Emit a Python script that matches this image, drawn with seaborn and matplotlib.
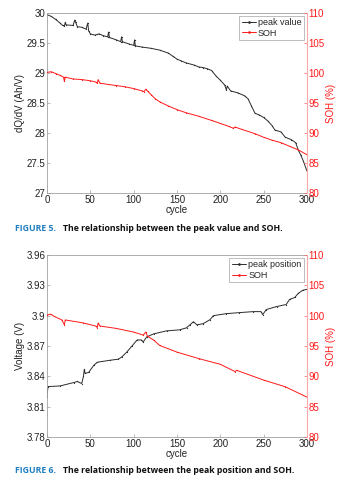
import matplotlib
matplotlib.use("Agg")
import matplotlib.pyplot as plt
import seaborn as sns
import pandas as pd
from matplotlib.lines import Line2D

# ---------------- data ----------------
pv_cycle = [0, 5, 10, 15, 18, 20, 21, 22, 30, 32, 33, 35, 40, 45, 47, 48, 50, 55, 58, 60,
            65, 70, 71, 72, 80, 85, 86, 87, 95, 100, 101, 102, 110, 120, 130, 140, 145, 150,
            155, 160, 170, 175, 180, 185, 190, 195, 200, 205, 207, 208, 212, 220, 228, 232,
            236, 240, 245, 250, 255, 260, 263, 270, 275, 282, 287, 290, 293, 296, 300]
pv_value = [29.97, 29.94, 29.89, 29.83, 29.79, 29.78, 29.84, 29.80, 29.79, 29.88, 29.84, 29.77,
            29.76, 29.73, 29.83, 29.70, 29.65, 29.63, 29.64, 29.65, 29.62, 29.60, 29.68, 29.59,
            29.55, 29.52, 29.60, 29.52, 29.48, 29.46, 29.55, 29.45, 29.43, 29.41, 29.38, 29.33,
            29.28, 29.23, 29.20, 29.17, 29.13, 29.10, 29.09, 29.07, 29.04, 28.95, 28.88, 28.80,
            28.72, 28.78, 28.70, 28.67, 28.62, 28.57, 28.45, 28.33, 28.30, 28.26, 28.20, 28.12,
            28.05, 28.02, 27.93, 27.89, 27.84, 27.72, 27.63, 27.53, 27.37]

soh1_cycle = [0, 5, 10, 15, 19, 20, 21, 30, 40, 50, 56, 58, 59, 61, 70, 80, 90, 100, 110, 112,
              114, 116, 120, 125, 130, 140, 150, 160, 175, 190, 200, 210, 215, 217, 225, 240,
              250, 260, 270, 280, 290, 300]
soh1_value = [100.1, 100.2, 99.9, 99.6, 99.3, 98.6, 99.3, 99.0, 98.9, 98.7, 98.5, 98.3, 98.9,
              98.3, 98.1, 97.9, 97.7, 97.4, 97.0, 96.9, 97.3, 97.0, 96.4, 95.7, 95.2, 94.5,
              93.9, 93.4, 92.8, 92.1, 91.6, 91.1, 90.8, 91.0, 90.6, 89.9, 89.3, 88.8, 88.4,
              87.8, 87.2, 86.4]

pp_cycle = [0, 1, 15, 31, 35, 40, 42, 43, 44, 48, 54, 58, 73, 82, 86, 92, 98, 104, 109, 111,
            115, 123, 138, 153, 161, 165, 169, 173, 180, 188, 192, 207, 222, 238, 247, 249,
            253, 265, 276, 280, 286, 290, 295, 300]
pp_value = [3.820, 3.830, 3.8306, 3.834, 3.835, 3.833, 3.840, 3.847, 3.843, 3.844, 3.851,
            3.854, 3.856, 3.857, 3.859, 3.864, 3.870, 3.876, 3.876, 3.874, 3.879, 3.882,
            3.885, 3.886, 3.888, 3.891, 3.894, 3.891, 3.892, 3.896, 3.900, 3.902, 3.903,
            3.904, 3.904, 3.901, 3.906, 3.909, 3.911, 3.916, 3.918, 3.922, 3.925, 3.926]

soh2_cycle = [0, 4, 8, 17, 20, 21, 42, 56, 58, 59, 61, 80, 100, 111, 114, 116, 123, 130, 150,
              176, 200, 217, 219, 250, 275, 300]
soh2_value = [100.1, 100.25, 99.9, 99.3, 98.5, 99.3, 98.8, 98.3, 98.05, 98.8, 98.3, 97.9, 97.3,
              96.8, 97.3, 96.6, 96.0, 95.1, 94.0, 92.9, 92.0, 90.8, 91.0, 89.4, 88.3, 86.6]

x_ticks = [0, 50, 100, 150, 200, 250, 300]
top_left_ticks = [27, 27.5, 28, 28.5, 29, 29.5, 30]
bot_left_ticks = [3.78, 3.81, 3.84, 3.87, 3.90, 3.93, 3.96]
bot_left_labels = ["3.78", "3.81", "3.84", "3.87", "3.9", "3.93", "3.96"]
right_ticks = [80, 85, 90, 95, 100, 105, 110]

# ---------------- style ----------------
sns.set_theme(style="white")
plt.rcParams["font.family"] = ["Liberation Sans", "DejaVu Sans"]

fig = plt.figure(figsize=(3.46, 4.94), dpi=100)
BLACK = "#2b2b2b"
RED = "#ff1a1a"
FS = 7


def style_axes(ax, ax2):
    for s in ["left", "top", "bottom"]:
        ax.spines[s].set_color("#a0a0a0")
        ax.spines[s].set_linewidth(0.6)
    ax.spines["right"].set_visible(False)
    for s in ["left", "top", "bottom"]:
        ax2.spines[s].set_visible(False)
    ax2.spines["right"].set_color("#ffa8a8")
    ax2.spines["right"].set_linewidth(0.8)
    ax.tick_params(direction="in", length=2, width=0.5, colors="#a0a0a0",
                   labelcolor="#222222", labelsize=FS, pad=1.2, top=False, right=False,
                   left=True, bottom=True)
    ax2.tick_params(direction="in", length=2, width=0.5, colors="#ff6060",
                    labelcolor=RED, labelsize=FS, pad=1.2, right=True)


def draw(rect, cyc, val, lab, ylim, yticks, ylabels, ylab, scyc, sval, caption_num, caption_text, cap_y):
    ax = fig.add_axes(rect)
    ax2 = ax.twinx()
    df1 = pd.DataFrame({"cycle": cyc, "v": val})
    df2 = pd.DataFrame({"cycle": scyc, "soh": sval})
    sns.lineplot(data=df1, x="cycle", y="v", ax=ax, color=BLACK, linewidth=0.7,
                 marker=".", markersize=1.8, markeredgewidth=0)
    sns.lineplot(data=df2, x="cycle", y="soh", ax=ax2, color=RED, linewidth=0.7,
                 marker=".", markersize=1.8, markeredgewidth=0)
    ax.set_xlim(0, 300)
    ax.set_ylim(*ylim)
    ax.set_xticks(x_ticks)
    ax.set_yticks(yticks)
    ax.set_yticklabels(ylabels)
    ax2.set_ylim(80, 110)
    ax2.set_yticks(right_ticks)
    ax.set_xlabel("cycle", fontsize=FS, color="#222222", labelpad=0)
    ax.set_ylabel(ylab, fontsize=FS, color="#222222", labelpad=1)
    ax2.set_ylabel("SOH (%)", fontsize=FS, color=RED, labelpad=1)
    style_axes(ax, ax2)
    handles = [Line2D([], [], color=BLACK, lw=0.7, marker=".", markersize=1.8),
               Line2D([], [], color=RED, lw=0.7, marker=".", markersize=1.8)]
    leg = ax.legend(handles, [lab, "SOH"], loc="upper right", fontsize=6.5,
                    frameon=True, fancybox=False, handlelength=1.6, handletextpad=0.2,
                    borderpad=0.3, labelspacing=0.15, borderaxespad=0.3)
    leg.get_frame().set_edgecolor("#a0a0a0")
    leg.get_frame().set_linewidth(0.6)
    fig.text(0.043, cap_y, caption_num, fontsize=6.3, fontweight="bold", color="#1f7fc1",
             family=["Open Sans", "DejaVu Sans"], va="center")
    fig.text(0.182, cap_y, caption_text, fontsize=6.3, fontweight="bold", color="#111111",
             family=["Open Sans", "DejaVu Sans"], va="center")
    return ax


draw([0.136, 0.609, 0.751, 0.365], pv_cycle, pv_value, "peak value", (27, 30),
     top_left_ticks, ["27", "27.5", "28", "28.5", "29", "29.5", "30"], "dQ/dV (Ah/V)",
     soh1_cycle, soh1_value, "FIGURE 5.", "The relationship between the peak value and SOH.",
     1 - 228 / 494)
draw([0.136, 0.115, 0.751, 0.369], pp_cycle, pp_value, "peak position", (3.78, 3.96),
     bot_left_ticks, bot_left_labels, "Voltage (V)",
     soh2_cycle, soh2_value, "FIGURE 6.", "The relationship between the peak position and SOH.",
     1 - 470 / 494)

fig.savefig("out.png", dpi=100)
